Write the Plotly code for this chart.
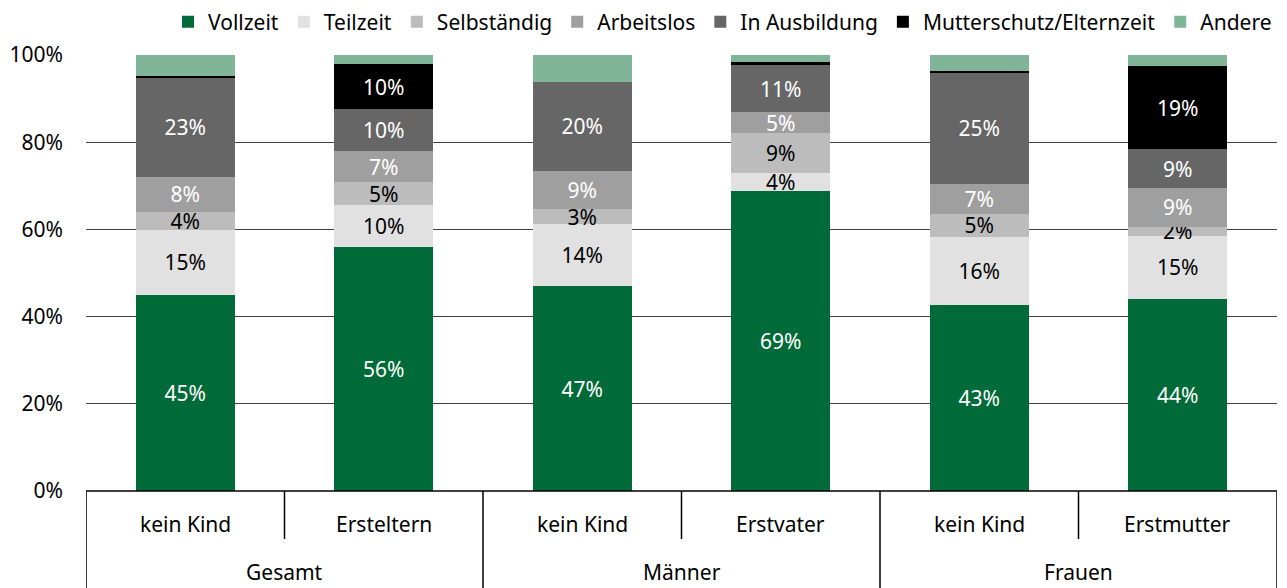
import plotly.graph_objects as go

groups = ["Gesamt", "Männer", "Frauen"]
subcats = ["kein Kind", "Ersteltern", "kein Kind", "Erstvater", "kein Kind", "Erstmutter"]
group_of_bar = [0, 0, 1, 1, 2, 2]

series_names = ["Vollzeit", "Teilzeit", "Selbständig", "Arbeitslos", "In Ausbildung",
                "Mutterschutz/Elternzeit", "Andere"]
vollzeit = [45.0, 56.0, 47.0, 68.9, 42.7, 44.0]
teilzeit = [14.9, 9.6, 14.2, 4.1, 15.6, 14.6]
selbstaendig = [4.1, 5.2, 3.4, 9.0, 5.2, 2.0]
arbeitslos = [8.1, 7.2, 8.9, 4.9, 7.0, 8.9]
ausbildung = [22.8, 9.6, 20.3, 10.8, 25.3, 8.9]
mutterschutz = [0.3, 10.3, 0.0, 0.6, 0.6, 19.1]
andere = [4.8, 2.1, 6.2, 1.7, 3.6, 2.5]

series_values = [vollzeit, teilzeit, selbstaendig, arbeitslos, ausbildung, mutterschutz, andere]
colors = ["#006a38", "#e1e1e1", "#bcbcbc", "#9f9f9f", "#666666", "#000000", "#80b59a"]
text_colors = ["white", "black", "black", "white", "white", "white", "white"]
show_labels = [True, True, True, True, True, True, False]

FONT = "Noto Sans, sans-serif"
FS = 21

xpos = list(range(len(subcats)))

fig = go.Figure()
for name, vals, col, tcol, lab in zip(series_names, series_values, colors, text_colors, show_labels):
    texts = [f"{round(v):.0f}%" if (lab and v >= 1.5) else "" for v in vals]
    fig.add_trace(go.Bar(
        x=xpos, y=vals, name=name, marker=dict(color=col, line=dict(width=0)),
        width=0.5, text=texts, textposition="inside", insidetextanchor="middle",
        textangle=0, textfont=dict(color=tcol, size=FS, family=FONT),
        hoverinfo="name+y",
    ))

shapes = []
annotations = []
sub_sep_y = -0.1101
group_sep_y = -0.2225
for i, s in enumerate(subcats):
    annotations.append(dict(x=i, y=-0.0757, xref="x", yref="paper", text=s, showarrow=False,
                            font=dict(size=FS, family=FONT, color="black"),
                            xanchor="center", yanchor="middle"))
for g, gname in enumerate(groups):
    idx = [i for i, gg in enumerate(group_of_bar) if gg == g]
    center = (idx[0] + idx[-1]) / 2
    annotations.append(dict(x=center, y=-0.1858, xref="x", yref="paper", text=gname, showarrow=False,
                            font=dict(size=FS, family=FONT, color="black"),
                            xanchor="center", yanchor="middle"))
    left = idx[0] - 0.5
    shapes.append(dict(type="line", xref="x", yref="paper", x0=left, x1=left,
                       y0=0, y1=group_sep_y, line=dict(color="black", width=1.5)))
    for j in idx[1:]:
        shapes.append(dict(type="line", xref="x", yref="paper", x0=j - 0.5, x1=j - 0.5,
                           y0=0, y1=sub_sep_y, line=dict(color="black", width=1.5)))
last = len(subcats) - 0.5
shapes.append(dict(type="line", xref="x", yref="paper", x0=last, x1=last,
                   y0=0, y1=group_sep_y, line=dict(color="black", width=1.5)))
shapes.append(dict(type="line", xref="x", yref="paper", x0=-0.5, x1=last,
                   y0=0, y1=0, line=dict(color="black", width=1.5)))

fig.update_layout(
    barmode="stack",
    width=1287, height=588,
    margin=dict(l=86, r=10, t=55, b=97, autoexpand=False),
    plot_bgcolor="white", paper_bgcolor="white",
    font=dict(family=FONT, size=FS, color="black"),
    uniformtext=dict(minsize=FS, mode="show"),
    showlegend=True,
    legend=dict(orientation="h", x=1.0, xanchor="right", y=1.0757, yanchor="middle",
                traceorder="normal", font=dict(size=FS, family=FONT), itemwidth=30,
                bgcolor="rgba(0,0,0,0)"),
    xaxis=dict(range=[-0.5, len(subcats) - 0.5], showticklabels=False, showgrid=False,
               zeroline=False, showline=False, ticks=""),
    yaxis=dict(range=[0, 100], tickvals=[0, 20, 40, 60, 80, 100],
               ticktext=["0%", "20%", "40%", "60%", "80%", "100%"],
               showgrid=True, gridcolor="#404040", gridwidth=1, zeroline=False,
               showline=False, ticks="", ticklabelstandoff=22,
               tickfont=dict(size=FS, family=FONT, color="black")),
    shapes=shapes, annotations=annotations,
)

fig.write_html("out.html", config={"displayModeBar": False},
               post_script="document.body.style.margin='0';")
